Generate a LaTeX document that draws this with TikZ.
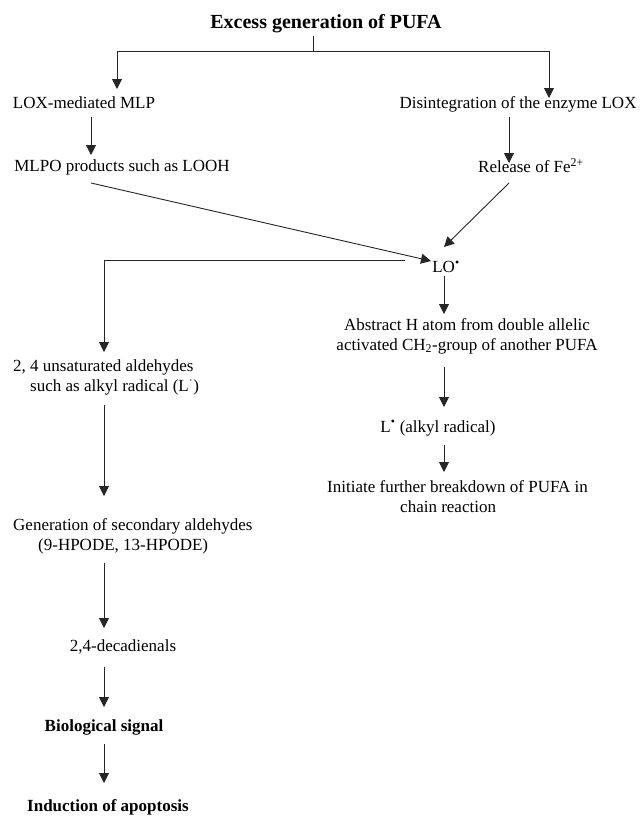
\documentclass[tikz,border=0pt]{standalone}
\usepackage{fontspec}
\setmainfont{Liberation Serif}
\usetikzlibrary{arrows.meta}
\begin{document}
\begin{tikzpicture}[x=1pt,y=-1pt,
  txt/.style={inner sep=0pt, font=\fontsize{17}{20}\selectfont},
  ttl/.style={inner sep=0pt, font=\fontsize{20}{24}\selectfont\bfseries},
  bld/.style={inner sep=0pt, font=\fontsize{17}{20}\selectfont\bfseries},
  ln/.style={draw=black!85, line width=0.9pt},
  arr/.style={draw=black!85, line width=0.9pt, -{Triangle[length=10pt,width=10pt]}}]
\useasboundingbox[fill=white] (0,0) rectangle (640,816);

% nodes
\node[ttl] (title) at (326,24) {Excess generation of PUFA};
\node[txt] (lox) at (84,103) {LOX-mediated MLP};
\node[txt] (dis) at (518,104) {Disintegration of the enzyme LOX};
\node[txt] (mlpo) at (122,167) {MLPO products such as LOOH};
\node[txt] (fe) at (531,166) {Release of Fe\textsuperscript{2+}};
\node[txt] (lo) at (446,267) {LO\textsuperscript{•}};
\node[txt, align=center] (abs) at (467,336) {Abstract H atom from double allelic\\activated CH\textsubscript{2}-group of another PUFA};
\node[txt] (lrad) at (438,428) {L\textsuperscript{•} (alkyl radical)};
\node[txt, align=left, anchor=west] (init) at (327,497) {Initiate further breakdown of PUFA in\\\hspace*{73pt}chain reaction};
\node[txt, align=left, anchor=west] (unsat) at (13,377) {2, 4 unsaturated aldehydes\\\hspace*{17pt}such as alkyl radical (L\textsuperscript{·})};
\node[txt, align=left, anchor=west] (gen) at (13,536) {Generation of secondary aldehydes\\\hspace*{25pt}(9-HPODE, 13-HPODE)};
\node[txt] (deca) at (123,647) {2,4-decadienals};
\node[bld] (bio) at (104,727) {Biological signal};
\node[bld] (ind) at (108,807) {Induction of apoptosis};

% connector coordinates
\coordinate (fork) at (313,51);
\coordinate (lt) at (117,89);
\coordinate (rt) at (549,98);
\coordinate (l1s) at (91,117);  \coordinate (l1e) at (91,155);
\coordinate (r1s) at (509,117); \coordinate (r1e) at (509,163);
\coordinate (d1s) at (91,183);  \coordinate (d1e) at (431,261);
\coordinate (d2s) at (509,183); \coordinate (d2e) at (444,247);
\coordinate (h1s) at (405,260); \coordinate (h1e) at (104,352);
\coordinate (lo1s) at (444,276); \coordinate (lo1e) at (444,314);
\coordinate (ab1s) at (444,367); \coordinate (ab1e) at (444,407);
\coordinate (lr1s) at (444,445); \coordinate (lr1e) at (444,472);
\coordinate (u1s) at (104,405); \coordinate (u1e) at (104,496);
\coordinate (g1s) at (104,563); \coordinate (g1e) at (104,628);
\coordinate (dc1s) at (104,667); \coordinate (dc1e) at (104,707);
\coordinate (b1s) at (104,744); \coordinate (b1e) at (104,783);

% connectors
\draw[ln] (fork |- title.south) ++(0,3) -- (fork);
\draw[arr] (fork) -| (lt);
\draw[arr] (fork) -| (rt);
\draw[arr] (l1s) -- (l1e);
\draw[arr] (r1s) -- (r1e);
\draw[arr] (d1s) -- (d1e);
\draw[arr] (d2s) -- (d2e);
\draw[arr] (h1s) -| (h1e);
\draw[arr] (lo1s) -- (lo1e);
\draw[arr] (ab1s) -- (ab1e);
\draw[arr] (lr1s) -- (lr1e);
\draw[arr] (u1s) -- (u1e);
\draw[arr] (g1s) -- (g1e);
\draw[arr] (dc1s) -- (dc1e);
\draw[arr] (b1s) -- (b1e);
\end{tikzpicture}
\end{document}
